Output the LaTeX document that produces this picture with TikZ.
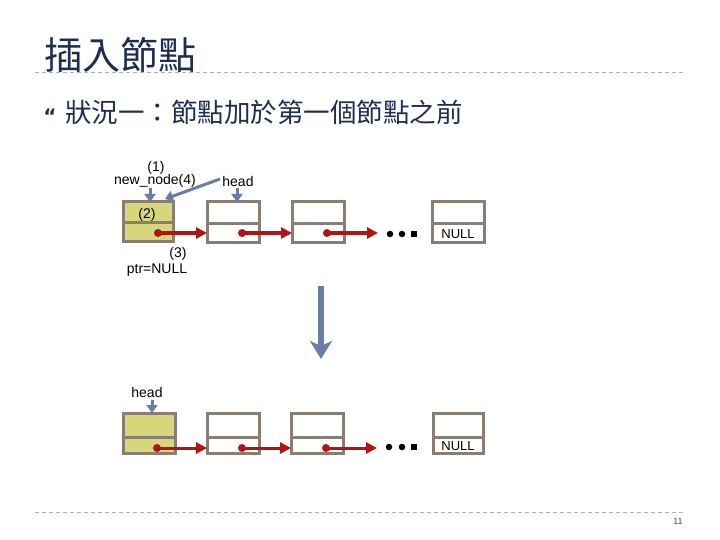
\documentclass[tikz,border=0pt]{standalone}
\usepackage{fontspec}
\setmainfont{Liberation Sans}
\newfontfamily\cjk{Noto Sans CJK TC}
\newfontfamily\djv{DejaVu Sans}
\usetikzlibrary{arrows.meta}
\definecolor{navy}{HTML}{1F2D50}
\definecolor{boxline}{HTML}{8B7D72}
\definecolor{boxfill}{HTML}{D6D67A}
\definecolor{redarr}{HTML}{B01414}
\definecolor{bluearr}{HTML}{6C7CA8}
\definecolor{dashgray}{HTML}{A8B4B8}
\tikzset{
  lbl/.style={font=\fontsize{14}{14}\selectfont, inner sep=0pt, text=black},
  link/.style={draw=redarr, line width=3pt, -{Triangle[length=11pt,width=11pt]}},
  ptrarr/.style={draw=bluearr, line width=3pt, -{Triangle[length=8pt,width=11pt]}},
  startdot/.style={fill=redarr, circle, inner sep=0pt, minimum size=8pt},
  blackdot/.style={fill=black, circle, inner sep=0pt, minimum size=6.5pt},
  boxedge/.style={draw=boxline, line width=3pt},
}
\begin{document}
\begin{tikzpicture}[x=1pt,y=-1pt]
\useasboundingbox (0,0) rectangle (720,540);
% title
\node[anchor=west, inner sep=0pt, text=navy, font=\cjk\fontsize{38}{38}\selectfont] (title) at (44,55) {插入節點};
\draw[dashgray, line width=1pt, dash pattern=on 4pt off 3pt] (35,73) -- (685,73);
\draw[dashgray, line width=1pt, dash pattern=on 4pt off 3pt] (35,512) -- (685,512);
\node[inner sep=0pt, text=black!70, font=\fontsize{9}{9}\selectfont] (pg) at (678,521) {11};
% bullet line
\node[inner sep=0pt, text=navy, font=\djv\bfseries\fontsize{20}{20}\selectfont] (bul) at (50,116) {“};
\node[anchor=west, inner sep=0pt, text=navy, font=\cjk\fontsize{26.5}{27}\selectfont] (sub) at (65,112) {狀況一：節點加於第一個節點之前};

% ---------- top row ----------
\fill[boxfill] (123,202) rectangle (173,241);
\draw[boxedge] (123,202) rectangle (173,241);
\draw[boxedge] (123,223) -- (173,223);
\coordinate (a1) at (150,202);
\draw[boxedge] (207,202) rectangle (259,242);
\draw[boxedge] (207,224) -- (259,224);
\coordinate (a2) at (237,202);
\coordinate (a2l) at (207,233);
\draw[boxedge] (292,202) rectangle (344,242);
\draw[boxedge] (292,224) -- (344,224);
\coordinate (a3l) at (292,233);
\draw[boxedge] (432,202) rectangle (484,242);
\draw[boxedge] (432,224) -- (484,224);
\node[lbl, font=\fontsize{13}{13}\selectfont] (n1) at (458,234) {NULL};

\node[startdot] (d1) at (158,233) {};
\node[startdot] (d2) at (242,233) {};
\node[startdot] (d3) at (327,233) {};
\coordinate (e3) at (378,233);
\draw[link] (d1.center) -- (a2l);
\draw[link] (d2.center) -- (a3l);
\draw[link] (d3.center) -- (e3);
\node[blackdot] (k1) at (390,234) {};
\node[blackdot] (k2) at (402,234) {};
\node[blackdot, rectangle] (k3) at (414,234) {};

\node[lbl] (l1) at (156,168) {(1)};
\node[lbl] (nn) at (155,181) {new\_node(4)};
\node[lbl] (hd) at (238,181) {head};
\node[lbl] (l2) at (147,215) {(2)};
\node[lbl] (l3) at (178,254) {(3)};
\node[lbl] (pn) at (157,270) {ptr=NULL};

\coordinate (nnb) at (150,188);
\coordinate (hdb) at (237,188);
\coordinate (hdl) at (220,179);
\coordinate (c1) at (165,199);
\draw[ptrarr] (nnb) -- (a1);
\draw[ptrarr] (hdb) -- (a2);
\draw[ptrarr] (hdl) -- (c1);

% big arrow
\coordinate (bt) at (321,286);
\coordinate (bb) at (321,359);
\draw[draw=bluearr, line width=5.5pt, -{Stealth[length=18pt,width=22pt,inset=5pt]}] (bt) -- (bb);

% ---------- bottom row ----------
\fill[boxfill] (123,413) rectangle (175,453);
\draw[boxedge] (123,413) rectangle (175,453);
\draw[boxedge] (123,437) -- (175,437);
\coordinate (b1) at (152,413);
\draw[boxedge] (207,413) rectangle (259,453);
\draw[boxedge] (207,437) -- (259,437);
\coordinate (b2l) at (207,448);
\draw[boxedge] (291,413) rectangle (343,453);
\draw[boxedge] (291,437) -- (343,437);
\coordinate (b3l) at (291,448);
\draw[boxedge] (433,413) rectangle (483,453);
\draw[boxedge] (433,437) -- (483,437);
\node[lbl, font=\fontsize{13}{13}\selectfont] (n2) at (458,446) {NULL};

\node[startdot] (f1) at (157,448) {};
\node[startdot] (f2) at (242,448) {};
\node[startdot] (f3) at (326,448) {};
\coordinate (g3) at (377,448);
\draw[link] (f1.center) -- (b2l);
\draw[link] (f2.center) -- (b3l);
\draw[link] (f3.center) -- (g3);
\node[blackdot] (m1) at (389,447) {};
\node[blackdot] (m2) at (402,447) {};
\node[blackdot, rectangle] (m3) at (414,447) {};

\node[lbl] (hd2) at (147,392) {head};
\coordinate (hd2b) at (152,400);
\draw[ptrarr] (hd2b) -- (b1);
\end{tikzpicture}
\end{document}
